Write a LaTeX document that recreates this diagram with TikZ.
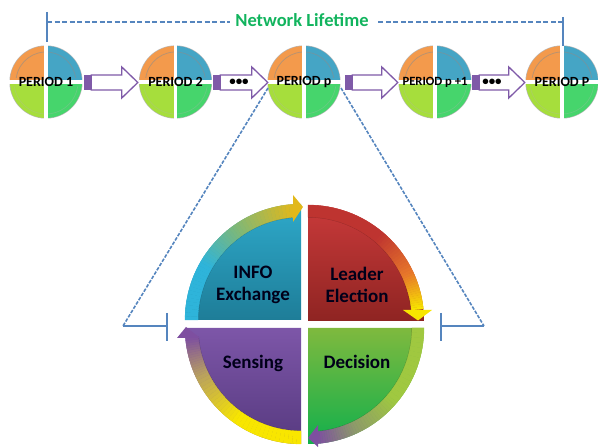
\documentclass[tikz,border=0pt]{standalone}
\usepackage{fontspec}
\setmainfont{Carlito}
\usetikzlibrary{calc}
\definecolor{linkblue}{HTML}{5585BE}
\definecolor{arrowpurple}{HTML}{7F5AA8}
\definecolor{titlegreen}{HTML}{12B45E}
\definecolor{pOrange}{HTML}{F39A4C}
\definecolor{pTeal}{HTML}{45A5C5}
\definecolor{pLime}{HTML}{A6DE3C}
\definecolor{pGreen}{HTML}{46D56C}
\definecolor{bTeal}{HTML}{2EB4DA}
\definecolor{bGold}{HTML}{E2B81A}
\definecolor{bMid}{HTML}{7FB878}
\definecolor{bRed}{HTML}{BE3430}
\definecolor{bOrange}{HTML}{E8782A}
\definecolor{bYellow}{HTML}{F8E600}
\definecolor{bLime}{HTML}{A0C840}
\definecolor{bDull}{HTML}{8E9A6A}
\definecolor{bPurple}{HTML}{7E4FA0}
\definecolor{bTan}{HTML}{B8A060}
\definecolor{qTealT}{HTML}{2EA9CA}
\definecolor{qTealB}{HTML}{1E7D98}
\definecolor{qRedT}{HTML}{C93A3A}
\definecolor{qRedB}{HTML}{8F2422}
\definecolor{qGreenT}{HTML}{7FB93E}
\definecolor{qGreenB}{HTML}{12B04C}
\definecolor{qPurpT}{HTML}{7D56A8}
\definecolor{qPurpB}{HTML}{573A80}
\tikzset{
  x=1pt,y=1pt,
  dashlink/.style={draw=linkblue,line width=1.6pt,dash pattern=on 5pt off 2.5pt},
  solidlink/.style={draw=linkblue,line width=1.5pt},
  period/.style={circle,inner sep=0pt,minimum size=72pt,font=\bfseries\fontsize{14}{15}\selectfont,text=black},
  quadlabel/.style={align=center,font=\bfseries\fontsize{19}{22}\selectfont,text=black!90!blue},
  innerrim/.style={draw=black,opacity=.25,line width=1pt},
}
\newcommand{\bandpart}[8]{%
  \foreach \bi in {1,...,16}{%
    \pgfmathsetmacro\bsa{#5+(#6-#5)*(\bi-1)/16}%
    \pgfmathsetmacro\bsb{#5+(#6-#5)*\bi/16}%
    \pgfmathsetmacro\bmx{100*(\bi-0.5)/16}%
    \filldraw[color={#8!\bmx!#7},line width=.3pt]
      ([shift={(#1,#2)}]\bsa:#3) arc[start angle=\bsa,end angle=\bsb,radius=#3]
      -- ([shift={(#1,#2)}]\bsb:#4) arc[start angle=\bsb,end angle=\bsa,radius=#4] -- cycle;
  }%
}
\newcommand{\smallpie}[4]{%
  \fill[gray!55] (#1,365) circle[radius=36.6];
  \fill[pOrange] (#1,365) -- ([shift={(#1,365)}]180:36) arc[start angle=180,end angle=90,radius=36] -- cycle;
  \fill[pTeal] (#1,365) -- ([shift={(#1,365)}]90:36) arc[start angle=90,end angle=0,radius=36] -- cycle;
  \fill[pGreen] (#1,365) -- ([shift={(#1,365)}]0:36) arc[start angle=0,end angle=-90,radius=36] -- cycle;
  \fill[pLime] (#1,365) -- ([shift={(#1,365)}]-90:36) arc[start angle=-90,end angle=-180,radius=36] -- cycle;
  \draw[black!45,opacity=.55,line width=.8pt] ([shift={(#1,365)}]172:30) arc[start angle=172,end angle=8,radius=30];
  \draw[black!30,opacity=.3,line width=.7pt] ([shift={(#1,365)}]-172:32) arc[start angle=-172,end angle=-8,radius=32];
  \fill[white] (#1-1.9,328) rectangle (#1+1.9,403);
  \fill[white] (#1-37,362.8) rectangle (#1+37,366.6);
  \node[period,#4] (#2) at (#1,365) {#3};
}
\newcommand{\blockarrow}[4]{% from, to, start gap, tip gap
  \coordinate (aS) at ($(#1.east)+(#3,-0.5)$);
  \coordinate (aT) at ($(#2.west)+(-#4,-0.5)$);
  \draw[arrowpurple,line width=1.3pt,fill=white,line join=miter]
    ($(aS)+(7,7.5)$) -- ($(aT)+(-16,7.5)$) -- ($(aT)+(-16,15.5)$) -- (aT)
    -- ($(aT)+(-16,-15.5)$) -- ($(aT)+(-16,-7.5)$) -- ($(aS)+(7,-7.5)$) -- cycle;
  \fill[arrowpurple] ($(aS)+(0,7.5)$) rectangle ($(aS)+(7,-7.5)$);
}
\begin{document}
\begin{tikzpicture}
\useasboundingbox (0,0) rectangle (598,447);

% top row of periods
\smallpie{46}{pa}{PERIOD 1}{}
\smallpie{175.5}{pb}{PERIOD 2}{}
\smallpie{304}{pc}{PERIOD p}{}
\smallpie{435}{pd}{PERIOD p +1}{font=\bfseries\fontsize{12.6}{13}\selectfont}
\smallpie{562}{pe}{PERIOD P}{}

\blockarrow{pa}{pb}{2}{1.5}
\blockarrow{pb}{pc}{1.5}{0}
\blockarrow{pc}{pd}{5}{1}
\blockarrow{pd}{pe}{1}{1}
\node[font=\bfseries\fontsize{13}{14}\selectfont,inner sep=0pt] (dotsa) at (239,365) {•••};
\node[font=\bfseries\fontsize{13}{14}\selectfont,inner sep=0pt] (dotsb) at (492,365) {•••};

% network lifetime bracket
\node[font=\bfseries\fontsize{18.5}{20}\selectfont,text=titlegreen,inner sep=0pt] (life) at (302,427) {Network Lifetime};
\coordinate (ltop) at (47,435);
\coordinate (lbot) at (47,405);
\coordinate (lmid) at (47,425);
\coordinate (rtop) at (563,430);
\coordinate (rbot) at (563,401);
\coordinate (rmid) at (563,425);
\coordinate (lend) at (230,425);
\coordinate (rend) at (378,425);
\draw[solidlink] (ltop) -- (lbot);
\draw[solidlink] (rtop) -- (rbot);
\draw[dashlink] (lmid) -- (lend);
\draw[dashlink] (rmid) -- (rend);

% zoom triangle
\coordinate (apexl) at (268,359);
\coordinate (apexr) at (341,359);
\coordinate (footl) at (123,121);
\coordinate (footr) at (484,121);
\coordinate (stopl) at (167,121);
\coordinate (stopr) at (441,121);
\draw[dashlink,dash pattern=on 3.5pt off 1.5pt] (apexl) -- (footl);
\draw[dashlink,dash pattern=on 3.5pt off 1.5pt] (apexr) -- (footr);
\draw[solidlink,line join=round] (footl) -- (stopl);
\draw[solidlink] (footr) -- (stopr);
\draw[solidlink] (167,134) -- (167,106);
\draw[solidlink] (441,134) -- (441,106);

% big wheel: fills
\shade[top color=qTealT,bottom color=qTealB] (301,127) -- (185,127) arc[start angle=180,end angle=90,radius=116] -- cycle;
\shade[top color=qRedT,bottom color=qRedB] (308,126) -- (308,242) arc[start angle=90,end angle=0,radius=116] -- cycle;
\shade[top color=qGreenT,bottom color=qGreenB] (308,119) -- (424,119) arc[start angle=0,end angle=-90,radius=116] -- cycle;
\shade[top color=qPurpT,bottom color=qPurpB] (301,119) -- (301,3) arc[start angle=-90,end angle=-180,radius=116] -- cycle;

% big wheel: inner edge of the bands
\draw[innerrim] ([shift={(301,127)}]178:103) arc[start angle=178,end angle=95,radius=103];
\draw[innerrim] ([shift={(308,126)}]90:104) arc[start angle=90,end angle=8,radius=104];
\draw[innerrim] ([shift={(308,119)}]0:104) arc[start angle=0,end angle=-84,radius=104];
\draw[innerrim] ([shift={(301,119)}]-92:103) arc[start angle=-92,end angle=-175,radius=103];

% big wheel: gradient bands with their arrowheads
\bandpart{301}{127}{116}{103}{180}{150}{bTeal}{bTeal}
\bandpart{301}{127}{116}{103}{150}{125}{bTeal}{bMid}
\bandpart{301}{127}{116}{103}{125}{94}{bMid}{bGold}
\fill[bGold] (303,240) -- (293,252) -- (293,225) -- cycle;

\bandpart{308}{126}{116}{104}{90}{50}{bRed}{bRed}
\bandpart{308}{126}{116}{104}{50}{25}{bRed}{bOrange}
\bandpart{308}{126}{116}{104}{25}{6}{bOrange}{bYellow}
\fill[bYellow] (403,137) -- (432,137) -- (418,126.5) -- cycle;

\bandpart{308}{119}{116}{104}{0}{-40}{bLime}{bLime}
\bandpart{308}{119}{116}{104}{-40}{-65}{bLime}{bDull}
\bandpart{308}{119}{116}{104}{-65}{-85}{bDull}{bPurple}
\fill[bPurple] (308,9) -- (318,22) -- (318,0) -- cycle;

\bandpart{301}{119}{116}{103}{270}{235}{bYellow}{bYellow}
\bandpart{301}{119}{116}{103}{235}{205}{bYellow}{bTan}
\bandpart{301}{119}{116}{103}{205}{185}{bTan}{bPurple}
\fill[bPurple] (177,109) -- (200,109) -- (186,120) -- cycle;

% big wheel: labels
\node[quadlabel] (info) at (253,162) {INFO\\Exchange};
\node[quadlabel] (leader) at (357,162) {Leader\\Election};
\node[quadlabel] (decision) at (357,85) {Decision};
\node[quadlabel] (sensing) at (253,84) {Sensing};
\end{tikzpicture}
\end{document}
